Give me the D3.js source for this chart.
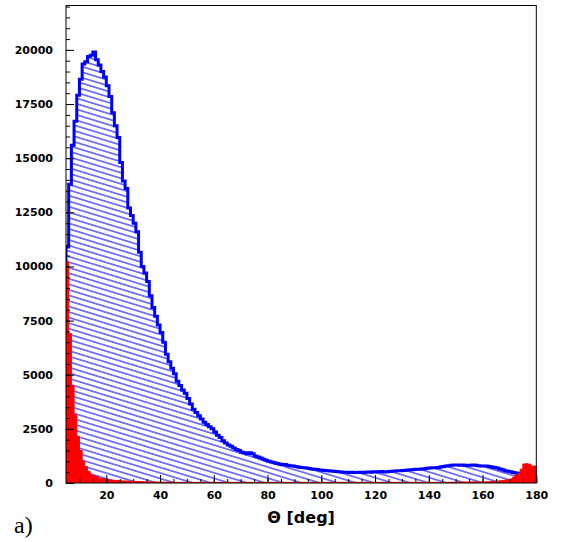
<!DOCTYPE html>
<html><head><meta charset="utf-8">
<script src="https://cdn.jsdelivr.net/npm/d3@7"></script>
<style>html,body{margin:0;padding:0;background:#fff;} svg{display:block}</style>
</head><body>
<svg id="c" width="562" height="542"></svg>
<script>
// ---- data (1-degree bins starting at 5 deg) ----
const binStart = 5;
const binWidth = 1;
const blueCounts = [
  10900,13800,15600,16700,17900,18650,19350,19450,19700,19750, // 5-14
  19900,19550,19300,19000,18750,18350,17850,17100,16500,15950, // 15-24
  14800,13950,13600,12700,12350,12000,11600,10650,10000,9700,  // 25-34
  9300,8650,8100,7700,7300,6950,6500,5950,5600,5300,           // 35-44
  5050,4700,4500,4300,4150,3900,3650,3400,3250,3100,           // 45-54
  2950,2800,2700,2600,2500,2350,2200,2100,1950,1850,           // 55-64
  1750,1700,1620,1550,1500,1420,1400,1350,1400,1350,           // 65-74
  1250,1200,1150,1100,1050,1000,970,930,900,880,               // 75-84
  860,850,820,800,780,760,740,720,700,690,                     // 85-94
  670,650,640,620,600,590,580,570,550,540,                     // 95-104
  530,520,510,500,500,490,500,490,490,500,                     // 105-114
  480,500,510,500,520,510,520,530,510,520,                     // 115-124
  530,540,550,560,570,580,590,600,610,620,                     // 125-134
  630,640,650,660,680,690,700,710,720,740,                     // 135-144
  760,780,800,820,830,830,820,830,820,810,                     // 145-154
  820,830,820,800,790,780,780,760,740,720,                     // 155-164
  690,650,610,570,540,520,480,460,440,450,                     // 165-174
  500,550,600,620,600                                          // 175-179
];
const redCounts = [
  10200,6900,4500,3150,2150,1500,1000,750,530,380,             // 5-14
  340,300,230,210,190,150,140,130,120,110,                     // 15-24
  100,95,90,85,80,75,70,65,60,55,                              // 25-34
  50,50,45,45,40,40,40,35,35,35,                               // 35-44
  30,30,30,30,30,30,30,30,30,30,                               // 45-54
  30,30,30,30,30,30,30,30,30,30,                               // 55-64
  30,30,30,30,30,30,30,30,30,30,                               // 65-74
  30,30,30,30,30,30,30,30,30,30,                               // 75-84
  30,30,30,30,30,30,30,30,30,30,                               // 85-94
  30,30,30,30,30,30,30,30,30,30,                               // 95-104
  30,30,30,30,30,30,30,30,30,30,                               // 105-114
  30,30,30,30,30,30,30,30,30,30,                               // 115-124
  30,30,30,30,30,30,30,30,30,30,                               // 125-134
  30,30,30,30,30,30,30,30,30,30,                               // 135-144
  30,30,30,35,35,35,40,40,45,45,                               // 145-154
  50,50,50,50,50,50,55,60,70,80,                               // 155-164
  90,100,110,130,150,180,250,370,450,640,                      // 165-174
  880,890,870,780,780                                          // 175-179
];
const xDomain = [5, 180];
const yDomain = [0, 22050];
const xMajorTicks = [20,40,60,80,100,120,140,160,180];
const xMinorStep = 5;
const yMajorTicks = [0,2500,5000,7500,10000,12500,15000,17500,20000];
const yMinorStep = 500;
const xTitle = "\u0398 [deg]";
const panelLabel = "a)";

// ---- layout ----
const frame = {left:66, right:536.3, top:5.5, bottom:483};
const svg = d3.select("#c");
const x = d3.scaleLinear().domain(xDomain).range([frame.left, frame.right]);
const y = d3.scaleLinear().domain(yDomain).range([frame.bottom, frame.top]);

const defs = svg.append("defs");
defs.append("clipPath").attr("id","clip").append("rect")
  .attr("x",frame.left).attr("y",frame.top)
  .attr("width",frame.right-frame.left).attr("height",frame.bottom-frame.top);
const pat = defs.append("pattern").attr("id","hatch")
  .attr("patternUnits","userSpaceOnUse").attr("width",20).attr("height",5.3)
  .attr("patternTransform","rotate(17)");
pat.append("line").attr("x1",0).attr("x2",20).attr("y1",2.65).attr("y2",2.65)
  .attr("stroke","#0000ff").attr("stroke-width",1);

function toPoints(counts){
  const pts = counts.map((v,i)=>({x: binStart + i*binWidth, v}));
  pts.push({x: binStart + counts.length*binWidth, v: counts[counts.length-1]});
  return pts;
}
const bluePts = toPoints(blueCounts);
const redPts = toPoints(redCounts);

const area = d3.area().curve(d3.curveStepAfter)
  .x(d=>x(d.x)).y0(y(0)).y1(d=>y(d.v));
const line = d3.line().curve(d3.curveStepAfter)
  .x(d=>x(d.x)).y(d=>y(d.v));

const g = svg.append("g").attr("clip-path","url(#clip)");
g.append("path").attr("d", area(bluePts)).attr("fill","url(#hatch)");
const outline = [{x: xDomain[0], v: 0}, ...bluePts, {x: bluePts[bluePts.length-1].x, v:0}];
g.append("path").attr("d", line(outline)).attr("fill","none")
  .attr("stroke","#0000ff").attr("stroke-width",3).attr("stroke-linejoin","miter");
g.append("path").attr("d", area(redPts)).attr("fill","#ff0000")
  .attr("stroke","#ff0000").attr("stroke-width",1);

// ---- axes ----
const font = "'DejaVu Sans', sans-serif";
const yMinor = d3.range(yDomain[0], yDomain[1]+1, yMinorStep);
svg.append("g").attr("transform",`translate(${frame.left},0)`)
  .call(d3.axisLeft(y).tickValues(yMinor).tickSize(-4).tickFormat(""))
  .call(a=>a.select(".domain").remove());
svg.append("g").attr("transform",`translate(${frame.left},0)`)
  .call(d3.axisLeft(y).tickValues(yMajorTicks).tickSizeInner(-8).tickSizeOuter(0).tickPadding(13).tickFormat(d3.format("d")))
  .call(a=>a.select(".domain").remove())
  .call(a=>a.selectAll("text").attr("font-family",font).attr("font-weight","bold").attr("font-size",11).attr("fill","#000"));

const xMinor = d3.range(xDomain[0]+xMinorStep, xDomain[1]+0.01, xMinorStep);
svg.append("g").attr("transform",`translate(0,${frame.bottom})`)
  .call(d3.axisBottom(x).tickValues(xMinor).tickSize(-4).tickFormat(""))
  .call(a=>a.select(".domain").remove());
svg.append("g").attr("transform",`translate(0,${frame.bottom})`)
  .call(d3.axisBottom(x).tickValues(xMajorTicks).tickSizeInner(-8).tickSizeOuter(0).tickPadding(7.7).tickFormat(d3.format("d")))
  .call(a=>a.select(".domain").remove())
  .call(a=>a.selectAll("text").attr("font-family",font).attr("font-weight","bold").attr("font-size",11).attr("fill","#000"));

svg.append("rect").attr("x",frame.left).attr("y",frame.top)
  .attr("width",frame.right-frame.left).attr("height",frame.bottom-frame.top)
  .attr("fill","none").attr("stroke","#000").attr("stroke-width",1);

svg.append("text").attr("x",(frame.left+frame.right)/2).attr("y",523)
  .attr("text-anchor","middle").attr("font-family",font).attr("font-weight","bold")
  .attr("font-size",16).text(xTitle);
svg.append("text").attr("x",14).attr("y",533)
  .attr("font-family","'Liberation Serif', serif").attr("font-size",24).text(panelLabel);
</script>
</body></html>
